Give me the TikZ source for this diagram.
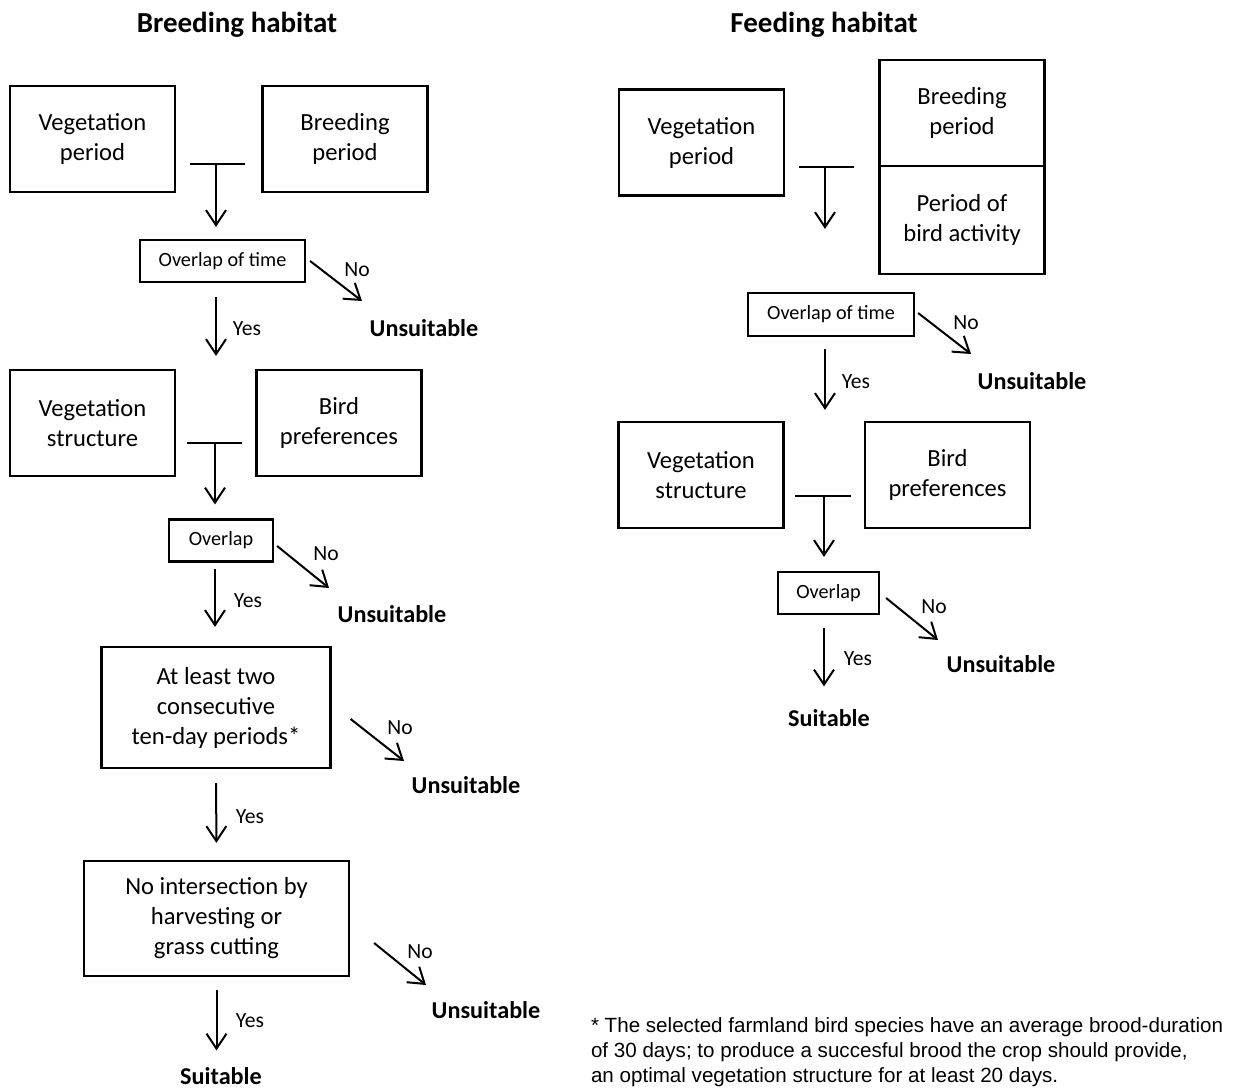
\documentclass[tikz,border=0pt]{standalone}
\usepackage{fontspec}
\setmainfont{Carlito}
\newfontfamily\notefont{Liberation Sans}
\usetikzlibrary{arrows.meta}

\begin{document}
\begin{tikzpicture}[
        x=0.5pt, y=-0.5pt,
        line width=1pt,
        box/.style={draw, line width=1.1pt, inner sep=0pt, align=center,
            minimum width=82.5pt, minimum height=53pt,
            font=\fontsize{12.3}{15}\selectfont},
        smallbox/.style={draw, line width=1.1pt, inner sep=0pt,
            minimum height=21pt, font=\fontsize{10.1}{12}\selectfont},
        title/.style={inner sep=0pt, font=\fontsize{14.5}{17}\selectfont\bfseries},
        verdict/.style={inner sep=0pt, font=\fontsize{12.1}{14}\selectfont\bfseries},
        answer/.style={inner sep=0pt, font=\fontsize{10.8}{13}\selectfont},
        bar/.style={line width=1.2pt},
        arr/.style={-{Straight Barb[length=7.5pt, width=10pt]}}]

    \useasboundingbox (0,0) rectangle (1236,1088);

    % breeding habitat
    \node[title] (btitle) at (237,25) {Breeding habitat};

    \node[box] (lvp) at (92.5,139) {Vegetation\\period};
    \node[box] (lbp) at (345,139) {Breeding\\period};
    \coordinate (lb1a) at (190,164);
    \coordinate (lb1b) at (245,164);
    \coordinate (lj1) at (216,164);
    \node[smallbox, minimum width=82.5pt] (lot) at (222.5,261) {Overlap of time};
    \node[verdict] (lu1) at (424,328) {Unsuitable};
    \coordinate (lc1) at (362,301);

    \node[box] (lvs) at (92.5,423) {Vegetation\\structure};
    \node[box] (lpr) at (339,423) {Bird\\preferences};
    \coordinate (lb2a) at (187,443);
    \coordinate (lb2b) at (242,443);
    \coordinate (lj2) at (215,443);
    \node[smallbox, minimum width=52pt] (lov) at (221,540.5) {Overlap};
    \node[verdict] (lu2) at (392,614) {Unsuitable};
    \coordinate (lc2) at (329,588);

    \node[box, minimum width=114.5pt, minimum height=60.5pt] (lat) at (216,707.5)
        {At least two\\consecutive\\ten-day periods*};
    \node[verdict] (lu3) at (466,785) {Unsuitable};
    \coordinate (lc3) at (404,761);

    \node[box, minimum width=132.5pt, minimum height=57.5pt] (lni) at (216.5,918.5)
        {No intersection by\\harvesting or\\grass cutting};
    \node[verdict] (lu4) at (486,1010) {Unsuitable};
    \coordinate (lc4) at (426,985);
    \node[verdict] (ls) at (221,1076) {Suitable};

    \draw[bar] (lb1a) -- (lb1b);
    \draw[arr, shorten >=6pt] (lj1) -- (lj1 |- lot.north);
    \draw[arr] ([shift={(4,0)}]lot.east) -- (lc1);
    \draw[arr, shorten <=7pt, shorten >=6.5pt] (lot.south -| lj1) -- (lvs.north -| lj1);
    \draw[bar] (lb2a) -- (lb2b);
    \draw[arr, shorten >=7pt] (lj2) -- (lj2 |- lov.north);
    \draw[arr] ([shift={(3,5.5)}]lov.east) -- (lc2);
    \draw[arr, shorten <=3pt, shorten >=9.5pt] (lov.south -| lj2) -- (lat.north -| lj2);
    \draw[arr] ([shift={(19,11.5)}]lat.east) -- (lc3);
    \draw[arr, shorten <=7pt, shorten >=8.5pt] (lat.south) -- (lni.north);
    \draw[arr] ([shift={(24,24.5)}]lni.east) -- (lc4);
    \draw[arr, shorten <=6.5pt, shorten >=8pt] (lni.south) -- (lni.south |- ls.north);

    \node[answer] (ln1) at (357,270) {No};
    \node[answer] (ly1) at (247,329) {Yes};
    \node[answer] (ln2) at (326,554) {No};
    \node[answer] (ly2) at (248,601) {Yes};
    \node[answer] (ln3) at (400,728) {No};
    \node[answer] (ly3) at (250,817) {Yes};
    \node[answer] (ln4) at (420,952) {No};
    \node[answer] (ly4) at (250,1021) {Yes};

    % feeding habitat
    \node[title] (ftitle) at (824,25) {Feeding habitat};

    \node[box] (rvp) at (701.5,142.5) {Vegetation\\period};
    \node[box] (rbp) at (962,113) {Breeding\\period};
    \node[box, minimum height=54pt] (rba) at (962,220) {Period of\\bird activity};
    \coordinate (rb1a) at (799,167);
    \coordinate (rb1b) at (854,167);
    \coordinate (rj1) at (825,167);
    \node[smallbox, minimum width=83pt, minimum height=21.5pt] (rot) at (831,314.5) {Overlap of time};
    \node[verdict] (ru1) at (1032,381) {Unsuitable};
    \coordinate (rc1) at (971,354);

    \node[box] (rvs) at (701,475) {Vegetation\\structure};
    \node[box] (rpr) at (947.5,475) {Bird\\preferences};
    \coordinate (rb2a) at (795,496);
    \coordinate (rb2b) at (851,496);
    \coordinate (rj2) at (824,496);
    \node[smallbox, minimum width=50.5pt, minimum height=21pt] (rov) at (828.5,593) {Overlap};
    \node[verdict] (ru2) at (1001,664) {Unsuitable};
    \coordinate (rc2) at (938,640);
    \node[verdict] (rs) at (829,718) {Suitable};

    \draw[bar] (rb1a) -- (rb1b);
    \draw[arr, shorten >=31.5pt] (rj1) -- (rj1 |- rot.north);
    \draw[arr] ([shift={(3,-1.5)}]rot.east) -- (rc1);
    \draw[arr, shorten <=6pt, shorten >=5.5pt] (rot.south -| rj1) -- (rvs.north -| rj1);
    \draw[bar] (rb2a) -- (rb2b);
    \draw[arr, shorten >=7pt] (rj2) -- (rj2 |- rov.north);
    \draw[arr] ([shift={(6,5)}]rov.east) -- (rc2);
    \draw[arr, shorten <=6.5pt, shorten >=11pt] (rov.south -| rj2) -- (rs.north -| rj2);

    \node[answer] (rn1) at (966,323) {No};
    \node[answer] (ry1) at (856,382) {Yes};
    \node[answer] (rn2) at (934,607) {No};
    \node[answer] (ry2) at (858,659) {Yes};

    % footnote
    \node[anchor=north west, inner sep=0pt, align=left,
        font=\notefont\fontsize{10.3}{12.5}\selectfont] (note) at (590,1017)
        {* The selected farmland bird species have an average brood-duration\\
         of 30 days; to produce a succesful brood the crop should provide,\\
         an optimal vegetation structure for at least 20 days.};
\end{tikzpicture}
\end{document}
